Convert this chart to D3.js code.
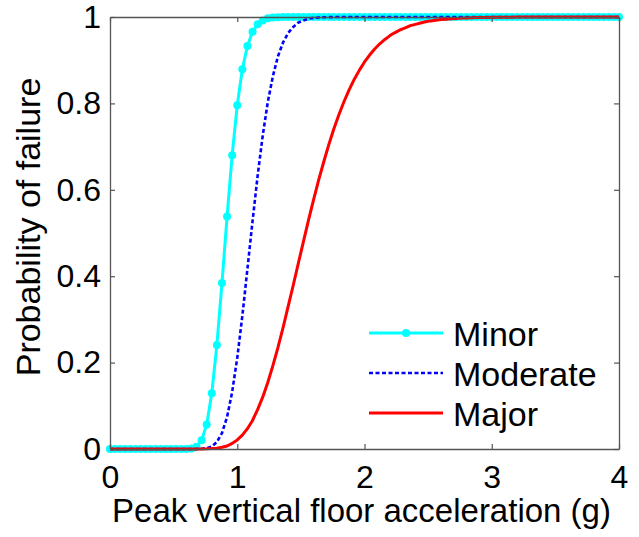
<!DOCTYPE html>
<html>
<head>
<meta charset="utf-8">
<script src="https://cdn.jsdelivr.net/npm/d3@7"></script>
<style>
  html, body { margin: 0; padding: 0; background: #fff; }
  svg { display: block; }
  text { font-family: "Liberation Sans", Arial, Helvetica, sans-serif; fill: #000; }
</style>
</head>
<body>
<div id="chart"></div>
<script>
// Peak vertical floor acceleration (g), sampled every 0.04 g
const accel = [
  0.00, 0.04, 0.08, 0.12, 0.16, 0.20, 0.24, 0.28, 0.32, 0.36,
  0.40, 0.44, 0.48, 0.52, 0.56, 0.60, 0.64, 0.68, 0.72, 0.76,
  0.80, 0.84, 0.88, 0.92, 0.96, 1.00, 1.04, 1.08, 1.12, 1.16,
  1.20, 1.24, 1.28, 1.32, 1.36, 1.40, 1.44, 1.48, 1.52, 1.56,
  1.60, 1.64, 1.68, 1.72, 1.76, 1.80, 1.84, 1.88, 1.92, 1.96,
  2.00, 2.04, 2.08, 2.12, 2.16, 2.20, 2.24, 2.28, 2.32, 2.36,
  2.40, 2.44, 2.48, 2.52, 2.56, 2.60, 2.64, 2.68, 2.72, 2.76,
  2.80, 2.84, 2.88, 2.92, 2.96, 3.00, 3.04, 3.08, 3.12, 3.16,
  3.20, 3.24, 3.28, 3.32, 3.36, 3.40, 3.44, 3.48, 3.52, 3.56,
  3.60, 3.64, 3.68, 3.72, 3.76, 3.80, 3.84, 3.88, 3.92, 3.96,
  4.00
];

// Fragility curves: probability of failure at each acceleration
const minorP = [
  0, 0, 0, 0, 0, 0, 0, 0, 0, 0,
  0, 0, 0, 0, 0, 0.0001, 0.001, 0.005, 0.020, 0.057,
  0.129, 0.241, 0.384, 0.538, 0.680, 0.796, 0.879, 0.933, 0.966, 0.983,
  0.992, 0.997, 0.999, 0.9994, 0.9998, 0.9999, 1, 1, 1, 1,
  1, 1, 1, 1, 1, 1, 1, 1, 1, 1,
  1, 1, 1, 1, 1, 1, 1, 1, 1, 1,
  1, 1, 1, 1, 1, 1, 1, 1, 1, 1,
  1, 1, 1, 1, 1, 1, 1, 1, 1, 1,
  1, 1, 1, 1, 1, 1, 1, 1, 1, 1,
  1, 1, 1, 1, 1, 1, 1, 1, 1, 1,
  1
];

const moderateP = [
  0, 0, 0, 0, 0, 0, 0, 0, 0, 0,
  0, 0, 0, 0, 0, 0, 0, 0.0001, 0.0004, 0.002,
  0.006, 0.016, 0.037, 0.074, 0.132, 0.211, 0.308, 0.417, 0.527, 0.632,
  0.725, 0.803, 0.863, 0.909, 0.941, 0.963, 0.977, 0.987, 0.992, 0.996,
  0.998, 0.999, 0.9993, 0.9996, 0.9998, 0.9999, 1, 1, 1, 1,
  1, 1, 1, 1, 1, 1, 1, 1, 1, 1,
  1, 1, 1, 1, 1, 1, 1, 1, 1, 1,
  1, 1, 1, 1, 1, 1, 1, 1, 1, 1,
  1, 1, 1, 1, 1, 1, 1, 1, 1, 1,
  1, 1, 1, 1, 1, 1, 1, 1, 1, 1,
  1
];

const majorP = [
  0, 0, 0, 0, 0, 0, 0, 0, 0, 0,
  0, 0, 0, 0, 0, 0, 0, 0, 0.0002, 0.0004,
  0.001, 0.002, 0.004, 0.007, 0.013, 0.021, 0.032, 0.047, 0.066, 0.091,
  0.120, 0.154, 0.193, 0.235, 0.281, 0.330, 0.379, 0.430, 0.480, 0.530,
  0.577, 0.623, 0.665, 0.705, 0.742, 0.775, 0.805, 0.832, 0.856, 0.877,
  0.896, 0.912, 0.926, 0.938, 0.948, 0.957, 0.964, 0.970, 0.975, 0.980,
  0.983, 0.986, 0.989, 0.991, 0.9925, 0.994, 0.995, 0.996, 0.9967, 0.9974,
  0.9979, 0.9983, 0.9986, 0.9989, 0.9991, 0.9993, 0.9994, 0.9995, 0.9996, 0.9997,
  0.9998, 0.9998, 0.9999, 0.9999, 1, 1, 1, 1, 1, 1,
  1, 1, 1, 1, 1, 1, 1, 1, 1, 1,
  1
];

const seriesNames = ["Minor", "Moderate", "Major"];
const xTicks = [0, 1, 2, 3, 4];
const xTickLabels = ["0", "1", "2", "3", "4"];
const yTicks = [0, 0.2, 0.4, 0.6, 0.8, 1];
const yTickLabels = ["0", "0.2", "0.4", "0.6", "0.8", "1"];
const xTitle = "Peak vertical floor acceleration (g)";
const yTitle = "Probability of failure";

const W = 639, H = 537;
const plot = { left: 110, right: 619, top: 17, bottom: 449 };

const svg = d3.select("#chart").append("svg")
  .attr("width", W).attr("height", H);

const x = d3.scaleLinear().domain([0, 4]).range([plot.left, plot.right]);
const y = d3.scaleLinear().domain([0, 1]).range([plot.bottom, plot.top]);

const styles = [
  { color: "#00ffff", dash: null, width: 3, marker: true },
  { color: "#0000ff", dash: "4,2.5", width: 2.6, marker: false },
  { color: "#ff0000", dash: null, width: 3, marker: false }
];
const data = [minorP, moderateP, majorP];
const markerR = 4;

const line = d3.line()
  .x((d, i) => x(accel[i]))
  .y(d => y(d));

// curves, drawn in series order
data.forEach((vals, k) => {
  const s = styles[k];
  svg.append("path")
    .datum(vals)
    .attr("d", line)
    .attr("fill", "none")
    .attr("stroke", s.color)
    .attr("stroke-width", s.width)
    .attr("stroke-linejoin", "round")
    .attr("stroke-dasharray", s.dash);
  if (s.marker) {
    svg.append("g").selectAll("circle")
      .data(vals)
      .join("circle")
      .attr("cx", (d, i) => x(accel[i]))
      .attr("cy", d => y(d))
      .attr("r", markerR)
      .attr("fill", s.color);
  }
});

// axes box with inward ticks on all four sides
const axisColor = "#555";
const fontTick = 32;

const gx = svg.append("g").attr("transform", `translate(0,${plot.bottom})`)
  .call(d3.axisBottom(x).tickValues(xTicks)
    .tickFormat((d, i) => xTickLabels[i])
    .tickSize(-5).tickSizeOuter(0).tickPadding(16));
const gy = svg.append("g").attr("transform", `translate(${plot.left},0)`)
  .call(d3.axisLeft(y).tickValues(yTicks)
    .tickFormat((d, i) => yTickLabels[i])
    .tickSize(-5).tickSizeOuter(0).tickPadding(9));
const gt = svg.append("g").attr("transform", `translate(0,${plot.top})`)
  .call(d3.axisTop(x).tickValues(xTicks).tickFormat("")
    .tickSize(-5).tickSizeOuter(0));
const gr = svg.append("g").attr("transform", `translate(${plot.right},0)`)
  .call(d3.axisRight(y).tickValues(yTicks).tickFormat("")
    .tickSize(-5).tickSizeOuter(0));

[gx, gy, gt, gr].forEach(g => {
  g.select(".domain").attr("stroke", axisColor).attr("stroke-width", 1.3);
  g.selectAll(".tick line").attr("stroke", axisColor).attr("stroke-width", 1.2);
  g.selectAll(".tick text")
    .attr("font-size", fontTick)
    .attr("font-family", "'Liberation Sans', Arial, sans-serif")
    .attr("fill", "#000");
});

// axis titles
svg.append("text")
  .attr("x", (plot.left + plot.right) / 2 - 3)
  .attr("y", 522)
  .attr("text-anchor", "middle")
  .attr("font-size", 33)
  .text(xTitle);

svg.append("text")
  .attr("transform", `translate(40,${(plot.top + plot.bottom) / 2 - 6}) rotate(-90)`)
  .attr("text-anchor", "middle")
  .attr("font-size", 34)
  .text(yTitle);

// legend
const legend = svg.append("g");
const legRows = [333, 373, 413];
seriesNames.forEach((name, k) => {
  const s = styles[k];
  const ly = legRows[k];
  legend.append("line")
    .attr("x1", 369).attr("x2", 443)
    .attr("y1", ly).attr("y2", ly)
    .attr("stroke", s.color)
    .attr("stroke-width", s.width)
    .attr("stroke-dasharray", s.dash);
  if (s.marker) {
    legend.append("circle")
      .attr("cx", 406).attr("cy", ly).attr("r", markerR)
      .attr("fill", s.color);
  }
  legend.append("text")
    .attr("x", 453).attr("y", ly + 1)
    .attr("dy", "0.35em")
    .attr("font-size", 34)
    .text(name);
});
</script>
</body>
</html>
